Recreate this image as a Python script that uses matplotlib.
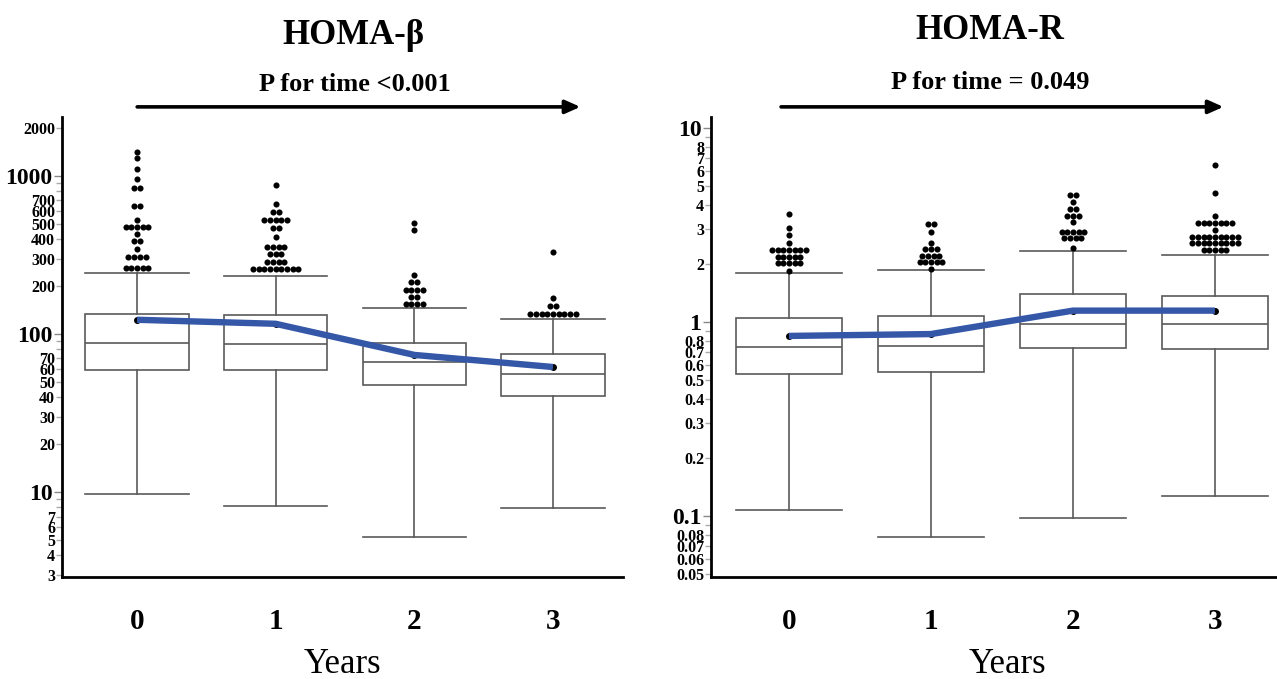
import numpy as np
import matplotlib
matplotlib.use("Agg")
import matplotlib.pyplot as plt
from matplotlib.ticker import FixedLocator, FuncFormatter

plt.rcParams["font.family"] = ["Liberation Serif", "DejaVu Serif"]
plt.rcParams["font.weight"] = "bold"

years = [0, 1, 2, 3]

# HOMA-beta, per year
beta_whislo = [9.7, 8.2, 5.2, 7.9]
beta_q1 = [59, 59, 47.6, 40.5]
beta_med = [88, 86.4, 66.5, 55.8]
beta_q3 = [134, 132, 88, 74.7]
beta_whishi = [243, 233, 146, 124]
beta_mean = [123, 116, 73.7, 61.8]
# outliers drawn as dot-plot rows: value of each row and number of dots in it
beta_out_vals = [
    [1425, 1294, 1107, 957, 839, 649, 527, 476, 430, 388, 347, 307, 262],
    [877, 665, 589, 524, 469, 413, 357, 321, 286, 257],
    [506, 455, 236, 212, 190, 172, 155],
    [329, 168, 151, 134],
]
beta_out_counts = [
    [1, 1, 1, 1, 2, 2, 1, 5, 1, 2, 1, 4, 5],
    [1, 1, 2, 5, 2, 1, 4, 3, 4, 9],
    [1, 1, 1, 2, 4, 2, 4],
    [1, 1, 2, 9],
]

# HOMA-R, per year
r_whislo = [0.107, 0.078, 0.0977, 0.127]
r_q1 = [0.54, 0.553, 0.735, 0.726]
r_med = [0.743, 0.752, 0.98, 0.972]
r_q3 = [1.047, 1.074, 1.394, 1.355]
r_whishi = [1.80, 1.86, 2.33, 2.21]
r_mean = [0.848, 0.867, 1.145, 1.145]
r_out_vals = [
    [3.60, 3.04, 2.81, 2.57, 2.34, 2.17, 2.01, 1.84],
    [3.21, 2.90, 2.57, 2.38, 2.20, 2.03, 1.88],
    [4.52, 4.15, 3.84, 3.53, 3.26, 2.92, 2.70, 2.42],
    [6.45, 4.61, 3.52, 3.23, 2.98, 2.75, 2.55, 2.34],
]
r_out_counts = [
    [1, 1, 1, 1, 7, 5, 5, 1],
    [2, 1, 1, 3, 4, 5, 1],
    [2, 1, 2, 3, 1, 5, 4, 1],
    [1, 1, 1, 7, 1, 9, 9, 5],
]

beta_labeled_minor = [3, 4, 5, 6, 7, 20, 30, 40, 50, 60, 70,
                      200, 300, 400, 500, 600, 700, 2000]
r_labeled_minor = [0.05, 0.06, 0.07, 0.08, 0.2, 0.3, 0.4, 0.5, 0.6, 0.7, 0.8,
                   2, 3, 4, 5, 6, 7, 8]

BOX_GRAY = "#5a5a5a"
BLUE = "#3557a8"


def draw_panel(ax, whislo, q1, med, q3, whishi, mean, out_vals, out_counts,
               ylim, xlim, majors, labeled_minor, dot_dx):
    stats = []
    for i in range(len(years)):
        stats.append(dict(whislo=whislo[i], q1=q1[i], med=med[i], q3=q3[i],
                          whishi=whishi[i], fliers=[], mean=mean[i]))
    w = 0.745
    ax.bxp(stats, positions=years, widths=w, capwidths=w, patch_artist=True,
           showmeans=False,
           boxprops=dict(facecolor="white", edgecolor=BOX_GRAY, linewidth=1.2),
           medianprops=dict(color=BOX_GRAY, linewidth=1.2),
           whiskerprops=dict(color=BOX_GRAY, linewidth=1.2),
           capprops=dict(color=BOX_GRAY, linewidth=1.2))

    # stacked outlier dots
    for x, vals, counts in zip(years, out_vals, out_counts):
        for v, n in zip(vals, counts):
            xs = x + (np.arange(n) - (n - 1) / 2) * dot_dx
            ax.plot(xs, [v] * n, "o", color="black", markersize=4.4,
                    markeredgewidth=0, zorder=4)

    # mean trend
    ax.plot(years, mean, "o", color="black", markersize=4, zorder=5)
    ax.plot(years, mean, color=BLUE, linewidth=4.6, solid_capstyle="butt",
            zorder=6)

    ax.set_yscale("log")
    ax.set_ylim(*ylim)
    ax.set_xlim(*xlim)

    lo, hi = ylim
    decades = range(int(np.floor(np.log10(lo))) - 1, int(np.ceil(np.log10(hi))) + 1)
    minors = [m * 10.0 ** d for d in decades for m in range(2, 10)]
    minors = [m for m in minors if lo * 0.999 <= m <= hi]
    ax.yaxis.set_major_locator(FixedLocator(majors))
    ax.yaxis.set_minor_locator(FixedLocator(minors))
    ax.yaxis.set_major_formatter(FuncFormatter(lambda v, p: "%g" % v))
    ax.yaxis.set_minor_formatter(FuncFormatter(
        lambda v, p: ("%g" % v) if any(abs(v - m) < m * 1e-6 for m in labeled_minor) else ""))
    ax.tick_params(axis="y", which="major", length=6, width=1, color="#888888",
                   labelsize=17, pad=1)
    ax.tick_params(axis="y", which="minor", length=4, width=1, color="#aaaaaa",
                   labelsize=11.5, pad=1)

    ax.set_xticks(years)
    ax.set_xticklabels([str(y) for y in years])
    ax.tick_params(axis="x", length=0, labelsize=21, pad=22)

    for s in ["top", "right"]:
        ax.spines[s].set_visible(False)
    for s in ["left", "bottom"]:
        ax.spines[s].set_linewidth(2)
        ax.spines[s].set_color("black")


fig = plt.figure(figsize=(12.77, 6.79), dpi=100)
ax1 = fig.add_axes([62 / 1277, 1 - 577 / 679, 561 / 1277, 460 / 679])
ax2 = fig.add_axes([711 / 1277, 1 - 577 / 679, 565 / 1277, 460 / 679])

draw_panel(ax1, beta_whislo, beta_q1, beta_med, beta_q3, beta_whishi, beta_mean,
           beta_out_vals, beta_out_counts, (2.9, 2360), (-0.541, 3.505),
           [10, 100, 1000], beta_labeled_minor, 0.041)
draw_panel(ax2, r_whislo, r_q1, r_med, r_q3, r_whishi, r_mean,
           r_out_vals, r_out_counts, (0.0485, 11.4), (-0.549, 3.43),
           [0.1, 1, 10], r_labeled_minor, 0.040)

# titles, P-values and time arrows
ax1.text(0.52, 1.178, "HOMA-β", transform=ax1.transAxes, ha="center",
         va="center", fontsize=25, fontweight="bold")
ax2.text(0.494, 1.188, "HOMA-R", transform=ax2.transAxes, ha="center",
         va="center", fontsize=25, fontweight="bold")
ax1.text(0.522, 1.07, "P for time <0.001", transform=ax1.transAxes,
         ha="center", va="center", fontsize=19, fontweight="bold")
ax2.text(0.494, 1.074, "P for time = 0.049", transform=ax2.transAxes,
         ha="center", va="center", fontsize=19, fontweight="bold")

arrow = dict(arrowstyle="-|>,head_length=0.9,head_width=0.4", color="black",
             lw=2.6, shrinkA=0, shrinkB=0)
ax1.annotate("", xy=(0.924, 1.022), xytext=(0.134, 1.022),
             xycoords="axes fraction", arrowprops=arrow, annotation_clip=False)
ax2.annotate("", xy=(0.907, 1.022), xytext=(0.124, 1.022),
             xycoords="axes fraction", arrowprops=arrow, annotation_clip=False)

ax1.text(0.5, -0.209, "Years", transform=ax1.transAxes, ha="center",
         va="baseline", fontsize=25, fontweight="normal")
ax2.text(0.524, -0.209, "Years", transform=ax2.transAxes, ha="center",
         va="baseline", fontsize=25, fontweight="normal")

fig.savefig("out.png", dpi=100)
